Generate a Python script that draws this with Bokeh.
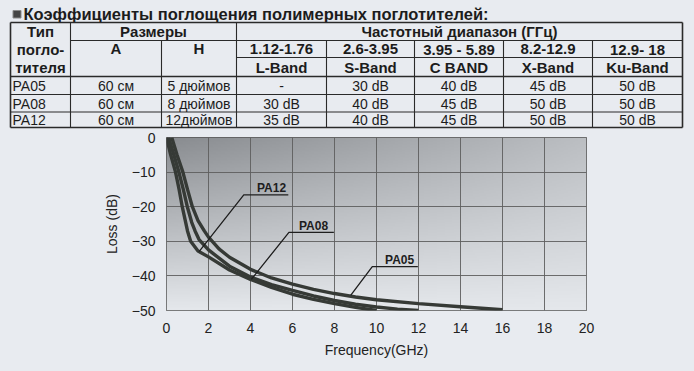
import numpy as np
from bokeh.plotting import figure
from bokeh.models import Range1d, FixedTicker
from bokeh.core.properties import value
from bokeh.embed import file_html
from bokeh.resources import INLINE

# ---------------- data ----------------
absorbers = ["PA05", "PA08", "PA12"]
size_a = ["60 см", "60 см", "60 см"]
size_h = ["5 дюймов", "8 дюймов", "12дюймов"]
freq_ranges = ["1.12-1.76", "2.6-3.95", "3.95 - 5.89", "8.2-12.9", "12.9- 18"]
band_names = ["L-Band", "S-Band", "C BAND", "X-Band", "Ku-Band"]
loss_pa05 = ["-", "30 dB", "40 dB", "45 dB", "50 dB"]
loss_pa08 = ["30 dB", "40 dB", "45 dB", "50 dB", "50 dB"]
loss_pa12 = ["35 dB", "40 dB", "45 dB", "50 dB", "50 dB"]

freq_pa12 = [0.0, 0.2, 0.43, 0.6, 0.75, 1.0, 1.15, 1.5, 2.0, 3.0, 4.0, 5.0, 6.0, 7.0, 8.0, 9.0, 10.0]
curve_pa12 = [0, -5, -10, -15, -20, -27, -30, -32.8, -34.5, -38.3, -41.0, -43.3, -45.3, -46.8, -48.0, -49.1, -50]

freq_pa08 = [0.1, 0.35, 0.59, 0.8, 0.99, 1.2, 1.36, 1.55, 2.0, 3.0, 4.0, 5.0, 6.0, 7.0, 8.0, 9.0, 10.0, 11.0, 12.0]
curve_pa08 = [0, -5, -10, -15, -20, -24.5, -27, -29.5, -32.5, -37.2, -40.3, -42.5, -44.2, -45.8, -47.1, -48.2, -49.0, -49.6, -50]

freq_pa05 = [0.25, 0.5, 0.78, 1.0, 1.23, 1.5, 1.8, 2.0, 2.5, 3.0, 4.0, 5.0, 6.0, 7.0, 8.0, 9.0, 10.0, 12.0, 14.0, 16.0]
curve_pa05 = [0, -5, -10, -15, -20, -24, -27, -28.8, -32.2, -34.6, -38.1, -40.6, -42.4, -43.9, -45.1, -46.1, -46.9, -48.0, -48.9, -49.8]

x_ticks = [0, 2, 4, 6, 8, 10, 12, 14, 16, 18, 20]
y_ticks = [0, -10, -20, -30, -40, -50]

# ---------------- styles ----------------
BG = "#e8ebf0"
INK = "#1c1c1c"
FONT = value("Liberation Sans")
W = 678

# ---------------- table figure (page y 0..130, page x 8..686) ----------------
TH = 130
tf = figure(width=W, height=TH, x_range=Range1d(0, W), y_range=Range1d(TH, 0),
            toolbar_location=None, output_backend="svg", min_border=0,
            x_axis_location=None, y_axis_location=None,
            background_fill_color=BG, border_fill_color=BG, outline_line_color=None)
tf.grid.visible = False

def px(x):
    return x - 8

def py(y):
    return y

def seg(x0, y0, x1, y1, w=1.1):
    tf.segment(x0=[px(x0)], y0=[py(y0)], x1=[px(x1)], y1=[py(y1)], line_color="#2a2a2a", line_width=w)

def txt(x, y, s, size="14px", bold=False, align="center"):
    tf.text(x=[px(x)], y=[py(y)], text=[s], text_font=FONT, text_font_size=size,
            text_font_style="bold" if bold else "normal", text_color=INK,
            text_align=align, text_baseline="middle")

# title
tf.quad(left=[px(12.5)], right=[px(20.5)], top=[py(10)], bottom=[py(17.5)],
        fill_color="#454545", line_color="#8a8a8a", line_width=1)
txt(23, 13.5, "Коэффициенты поглощения полимерных поглотителей:", size="16.5px", bold=True, align="left")

L, R, T, B = 10, 682, 22, 127
cols = [236, 326, 414, 503, 592, 682]
c_typ, c_a, c_h = 70, 161, 236
y_row1, y_row2, y_head, y_r1, y_r2 = 40, 57, 76, 94, 111.5

seg(L, T, R, T, 1.6); seg(L, B, R, B, 1.6); seg(L, T, L, B, 1.6); seg(R, T, R, B, 1.6)
seg(c_typ, T, c_typ, B); seg(c_h, T, c_h, B)
seg(c_a, y_row1, c_a, B)
for cx in cols[1:-1]:
    seg(cx, y_row1, cx, B)
seg(c_typ, y_row1, R, y_row1)
seg(c_h, y_row2, R, y_row2)
seg(L, y_head, R, y_head, 1.3)
seg(L, y_r1, R, y_r1)
seg(L, y_r2, R, y_r2)

txt(40, 31, "Тип", "15px", True)
txt(40, 49, "погло-", "15px", True)
txt(40, 67, "тителя", "15px", True)
txt((c_typ + c_h) / 2, 31, "Размеры", "15px", True)
txt((c_typ + c_a) / 2, 47.5, "A", "15px", True)
txt((c_a + c_h) / 2, 47.5, "H", "15px", True)
txt((c_h + R) / 2, 31, "Частотный диапазон (ГГц)", "15px", True)
for i in range(5):
    cx = (cols[i] + cols[i + 1]) / 2
    txt(cx, 48.5, freq_ranges[i], "15px", True)
    txt(cx, 66.5, band_names[i], "15px", True)

row_y = [85, 103, 119.5]
row_losses = [loss_pa05, loss_pa08, loss_pa12]
for r in range(3):
    yy = row_y[r]
    txt(12, yy, absorbers[r], "14px", False, "left")
    txt((c_typ + c_a) / 2, yy, size_a[r], "14px")
    txt((c_a + c_h) / 2, yy, size_h[r], "14px")
    for i in range(5):
        cx = (cols[i] + cols[i + 1]) / 2
        txt(cx, yy, row_losses[r][i], "14px")

# ---------------- chart figure (page y 130..363) ----------------
CH = 233
cf = figure(width=W, height=CH, x_range=Range1d(0, 20), y_range=Range1d(-50, 0),
            toolbar_location=None, output_backend="svg",
            min_border_left=158, min_border_right=100, min_border_top=7, min_border_bottom=53,
            background_fill_color="#d0d0d0", border_fill_color=BG,
            outline_line_color="#555555", outline_line_width=1)

# gradient background (style only)
nh, nw = 120, 240
v = np.linspace(1, 0, nh)[:, None]
u = np.linspace(0, 1, nw)[None, :]
s = v + 0.55 * u * (1 - v)
b = 140 + 92 * s
r = np.clip(b - 3, 0, 255).astype(np.uint32)
g = np.clip(b, 0, 255).astype(np.uint32)
bl = np.clip(b + 4, 0, 255).astype(np.uint32)
img = (255 << 24) | (bl << 16) | (g << 8) | r
cf.image_rgba(image=[img.astype(np.uint32)], x=0, y=-50, dw=20, dh=50, level="image")

cf.xaxis.ticker = FixedTicker(ticks=x_ticks)
cf.yaxis.ticker = FixedTicker(ticks=y_ticks)
cf.grid.grid_line_color = "#5e5e5e"
cf.grid.grid_line_width = 1
cf.grid.grid_line_alpha = 0.9
for ax in (cf.xaxis, cf.yaxis):
    ax.axis_line_color = None
    ax.major_tick_line_color = None
    ax.minor_tick_line_color = None
    ax.major_tick_out = 0
    ax.major_tick_in = 0
    ax.major_label_text_font = "Liberation Sans"
    ax.major_label_text_font_size = "14px"
    ax.major_label_text_color = "#222222"
    ax.axis_label_text_font = "Liberation Sans"
    ax.axis_label_text_font_size = "14px"
    ax.axis_label_text_font_style = "normal"
    ax.axis_label_text_color = "#222222"
cf.xaxis.axis_label = "Frequency(GHz)"
cf.yaxis.axis_label = "Loss (dB)"
cf.xaxis.major_label_standoff = 12
cf.xaxis.axis_label_standoff = 6
cf.yaxis.major_label_standoff = 11
cf.yaxis.axis_label_standoff = 9

CURVE = "#363a36"
cf.line(freq_pa05, curve_pa05, line_color=CURVE, line_width=3.4)
cf.line(freq_pa08, curve_pa08, line_color=CURVE, line_width=3.4)
cf.line(freq_pa12, curve_pa12, line_color=CURVE, line_width=3.4)

leaders = [
    ("PA12", [1.55, 3.68, 5.8], [-33.0, -16.6, -16.6], 5.0, -14.6),
    ("PA08", [4.04, 5.83, 7.97], [-41.0, -27.4, -27.4], 7.0, -25.5),
    ("PA05", [8.77, 9.8, 11.97], [-45.6, -37.3, -37.3], 11.1, -35.3),
]
for name, lx, ly, tx, ty in leaders:
    cf.line(lx, ly, line_color="#1e1e1e", line_width=1.3)
    cf.text(x=[tx], y=[ty], text=[name], text_font=FONT, text_font_size="12px",
            text_font_style="bold", text_color="#1e1e1e", text_align="center",
            text_baseline="middle")

p = [tf, cf]
html = file_html(p, INLINE)
html = html.replace("<body>", '<body style="margin:0; padding:0 8px 8px 8px; box-sizing:border-box; background:%s">' % BG)
open("out.html", "w").write(html)
